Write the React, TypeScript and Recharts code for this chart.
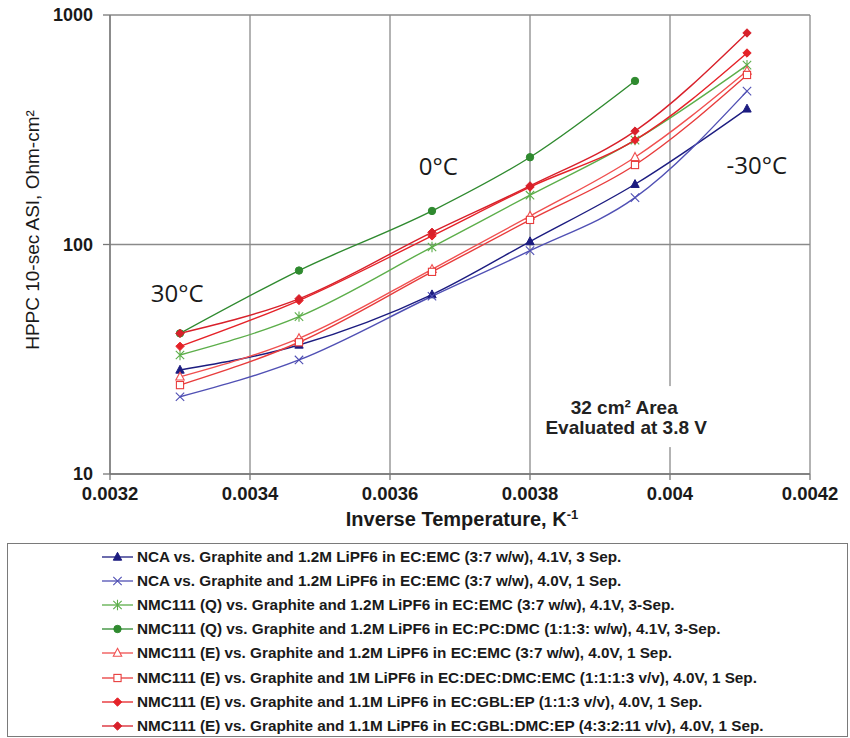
import React from "react";
import {
  CartesianGrid,
  Label,
  Line,
  LineChart,
  ReferenceDot,
  XAxis,
  YAxis,
} from "recharts";

// inverse temperature, 1/K (30, 15, 0, -10, -20, -30 °C)
const INV_TEMP = [0.0033, 0.00347, 0.00366, 0.0038, 0.00395, 0.00411];

// HPPC 10-sec ASI, Ohm-cm²
const NCA_41 = [28.4, 36.5, 60.5, 103, 183, 390];
const NCA_40 = [21.7, 31.4, 59.5, 94, 160, 466];
const NMC_Q_EMC = [33, 48.5, 97.5, 164, 285, 605];
const NMC_Q_PCDMC = [41, 77, 140, 240, 516, null];
const NMC_E_EMC = [26.5, 39, 78, 133, 240, 570];
const NMC_E_DECDMC = [24.4, 37.5, 76, 128, 222, 548];
const NMC_E_GBL = [36, 57, 109, 178, 285, 683];
const NMC_E_GBLDMC = [41, 58, 113, 180, 312, 835];

const X_TICKS = [0.0032, 0.0034, 0.0036, 0.0038, 0.004, 0.0042];
const X_TICK_LABELS = ["0.0032", "0.0034", "0.0036", "0.0038", "0.004", "0.0042"];
const Y_TICKS = [10, 100, 1000];
const Y_MINOR = [20, 30, 40, 50, 60, 70, 80, 90, 200, 300, 400, 500, 600, 700, 800, 900];

type Marker = "tri" | "x" | "star" | "circle" | "openTri" | "square" | "diamond";

const SERIES: { key: string; name: string; color: string; marker: Marker; values: (number | null)[] }[] = [
  { key: "s0", name: "NCA vs. Graphite and 1.2M LiPF6 in EC:EMC (3:7 w/w), 4.1V, 3 Sep.", color: "#1c1c80", marker: "tri", values: NCA_41 },
  { key: "s1", name: "NCA vs. Graphite and 1.2M LiPF6 in EC:EMC (3:7 w/w), 4.0V, 1 Sep.", color: "#5050b4", marker: "x", values: NCA_40 },
  { key: "s2", name: "NMC111 (Q) vs. Graphite and 1.2M LiPF6 in EC:EMC (3:7 w/w), 4.1V, 3-Sep.", color: "#5cae4a", marker: "star", values: NMC_Q_EMC },
  { key: "s3", name: "NMC111 (Q) vs. Graphite and 1.2M LiPF6 in EC:PC:DMC (1:1:3: w/w), 4.1V, 3-Sep.", color: "#2f8a2f", marker: "circle", values: NMC_Q_PCDMC },
  { key: "s4", name: "NMC111 (E) vs. Graphite and 1.2M LiPF6 in EC:EMC (3:7 w/w), 4.0V, 1 Sep.", color: "#f05050", marker: "openTri", values: NMC_E_EMC },
  { key: "s5", name: "NMC111 (E) vs. Graphite and 1M LiPF6 in EC:DEC:DMC:EMC (1:1:1:3 v/v), 4.0V, 1 Sep.", color: "#e83c3c", marker: "square", values: NMC_E_DECDMC },
  { key: "s6", name: "NMC111 (E) vs. Graphite and 1.1M LiPF6 in EC:GBL:EP (1:1:3 v/v), 4.0V, 1 Sep.", color: "#e52228", marker: "diamond", values: NMC_E_GBL },
  { key: "s7", name: "NMC111 (E) vs. Graphite and 1.1M LiPF6 in EC:GBL:DMC:EP (4:3:2:11 v/v), 4.0V, 1 Sep.", color: "#d8202a", marker: "diamond", values: NMC_E_GBLDMC },
];

const SANS = "'Liberation Sans', Arial, sans-serif";
const GRID = "#8a8a8a";
const INK = "#1a1a1a";

function markerShape(kind: Marker, color: string, cx: number, cy: number) {
  const s = 4.2;
  switch (kind) {
    case "tri":
      return <path d={`M${cx},${cy - s - 0.5}L${cx + s},${cy + s - 1}L${cx - s},${cy + s - 1}Z`} fill={color} stroke={color} />;
    case "openTri":
      return <path d={`M${cx},${cy - s - 0.5}L${cx + s},${cy + s - 1}L${cx - s},${cy + s - 1}Z`} fill="#fff" stroke={color} strokeWidth={1.1} />;
    case "x":
      return (
        <path d={`M${cx - s},${cy - s}L${cx + s},${cy + s}M${cx - s},${cy + s}L${cx + s},${cy - s}`} stroke={color} strokeWidth={1.1} fill="none" />
      );
    case "star":
      return (
        <path
          d={`M${cx - s},${cy - s}L${cx + s},${cy + s}M${cx - s},${cy + s}L${cx + s},${cy - s}M${cx},${cy - s - 1}L${cx},${cy + s + 1}`}
          stroke={color}
          strokeWidth={1.1}
          fill="none"
        />
      );
    case "circle":
      return <circle cx={cx} cy={cy} r={3.7} fill={color} stroke={color} />;
    case "square":
      return <rect x={cx - 3.6} y={cy - 3.6} width={7.2} height={7.2} fill="#fff" stroke={color} strokeWidth={1.1} />;
    case "diamond":
      return <path d={`M${cx},${cy - s}L${cx + s},${cy}L${cx},${cy + s}L${cx - s},${cy}Z`} fill={color} stroke={color} />;
  }
}

function makeDot(kind: Marker, color: string) {
  return (props: any) => {
    const { cx, cy, index, value } = props;
    if (cx == null || cy == null || value == null) return <g key={`e${index}`} />;
    return <g key={`d${index}`}>{markerShape(kind, color, cx, cy)}</g>;
  };
}

function tempNote(text: string) {
  return (props: any) => (
    <text x={props.cx} y={props.cy} textAnchor="middle" dominantBaseline="central" fontFamily="'Open Sans', sans-serif" fontSize={24} fill={INK}>
      {text}
    </text>
  );
}

function AreaNote(props: any) {
  const { cx, cy } = props;
  return (
    <g>
      <rect x={cx - 82} y={cy - 31} width={164} height={61} fill="#fff" />
      <text x={cx - 1} y={cy - 10} textAnchor="middle" dominantBaseline="central" fontFamily={SANS} fontWeight="bold" fontSize={19} fill="#222">
        32 cm² Area
      </text>
      <text x={cx + 1} y={cy + 10} textAnchor="middle" dominantBaseline="central" fontFamily={SANS} fontWeight="bold" fontSize={19} fill="#222">
        Evaluated at 3.8 V
      </text>
    </g>
  );
}

function LegendIcon({ kind, color }: { kind: Marker; color: string }) {
  return (
    <svg width={31} height={12} style={{ display: "block", flex: "none" }}>
      <line x1={0} y1={6} x2={31} y2={6} stroke={color} strokeWidth={1.3} />
      {markerShape(kind, color, 15.5, 6)}
    </svg>
  );
}

export default function App() {
  const data = INV_TEMP.map((x, i) => {
    const row: Record<string, number | null> = { x };
    SERIES.forEach((s) => (row[s.key] = s.values[i]));
    return row;
  });

  return (
    <div style={{ position: "absolute", left: 0, top: 0, width: 850, height: 738, background: "#fff" }}>
      <div style={{ position: "absolute", left: 0, top: 0 }}>
        <LineChart width={850} height={540} data={data} margin={{ top: 15, right: 40, bottom: 6, left: 10 }}>
          <CartesianGrid stroke={GRID} strokeWidth={1.3} />
          <XAxis
            dataKey="x"
            type="number"
            domain={[0.0032, 0.0042]}
            ticks={X_TICKS}
            tickFormatter={(v: number) => X_TICK_LABELS[X_TICKS.indexOf(v)] ?? String(v)}
            height={60}
            stroke="#777"
            strokeWidth={1.3}
            tickSize={6}
            tickMargin={7}
            tick={{ fill: INK, fontSize: 18.5, fontWeight: "bold", fontFamily: SANS }}
          >
            <Label
              content={(p: any) => {
                const vb = p.viewBox;
                return (
                  <text x={vb.x + vb.width / 2 + 2} y={vb.y + 52} textAnchor="middle" fontFamily={SANS} fontWeight="bold" fontSize={20} fill={INK}>
                    Inverse Temperature, K
                    <tspan dy={-7} fontSize={13}>-1</tspan>
                  </text>
                );
              }}
            />
          </XAxis>
          <YAxis
            scale="log"
            domain={[10, 1000]}
            ticks={Y_TICKS}
            allowDataOverflow
            width={100}
            stroke="#777"
            strokeWidth={1.3}
            tickSize={7}
            tickMargin={10}
            tick={{ fill: INK, fontSize: 18, fontWeight: "bold", fontFamily: SANS }}
          >
            <Label
              content={(p: any) => {
                const vb = p.viewBox;
                const x = vb.x + 22;
                const y = 230;
                return (
                  <text x={x} y={y} transform={`rotate(-90 ${x} ${y})`} textAnchor="middle" dominantBaseline="central" fontFamily={SANS} fontSize={19} fill={INK}>
                    HPPC 10-sec ASI, Ohm-cm²
                  </text>
                );
              }}
            />
          </YAxis>
          <YAxis
            yAxisId="minor"
            scale="log"
            domain={[10, 1000]}
            ticks={Y_MINOR}
            allowDataOverflow
            mirror
            width={0}
            axisLine={false}
            tick={false}
            tickSize={4}
            stroke="#777"
          />
          <ReferenceDot x={0.003296} y={62} r={0} ifOverflow="visible" shape={tempNote("30°C")} />
          <ReferenceDot x={0.003669} y={222} r={0} ifOverflow="visible" shape={tempNote("0°C")} />
          <ReferenceDot x={0.004124} y={224} r={0} ifOverflow="visible" shape={tempNote("-30°C")} />
          <ReferenceDot x={0.003936} y={17.7} r={0} ifOverflow="visible" shape={AreaNote} />
          {SERIES.map((s) => (
            <Line
              key={s.key}
              dataKey={s.key}
              name={s.name}
              type="monotone"
              stroke={s.color}
              strokeWidth={1.4}
              dot={makeDot(s.marker, s.color)}
              activeDot={false}
              isAnimationActive={false}
            />
          ))}
        </LineChart>
      </div>
      <div
        style={{
          position: "absolute",
          left: 7,
          top: 543,
          width: 841,
          height: 194,
          border: "1px solid #7a7a7a",
          boxSizing: "border-box",
        }}
      >
        {SERIES.map((s, i) => (
          <div
            key={s.key}
            style={{
              position: "absolute",
              left: 94,
              top: 13 + i * 24.1 - 9,
              height: 18,
              display: "flex",
              alignItems: "center",
              gap: 4,
              fontFamily: SANS,
              fontWeight: "bold",
              fontSize: 15.3,
              color: INK,
              whiteSpace: "nowrap",
            }}
          >
            <LegendIcon kind={s.marker} color={s.color} />
            <span>{s.name}</span>
          </div>
        ))}
      </div>
    </div>
  );
}
